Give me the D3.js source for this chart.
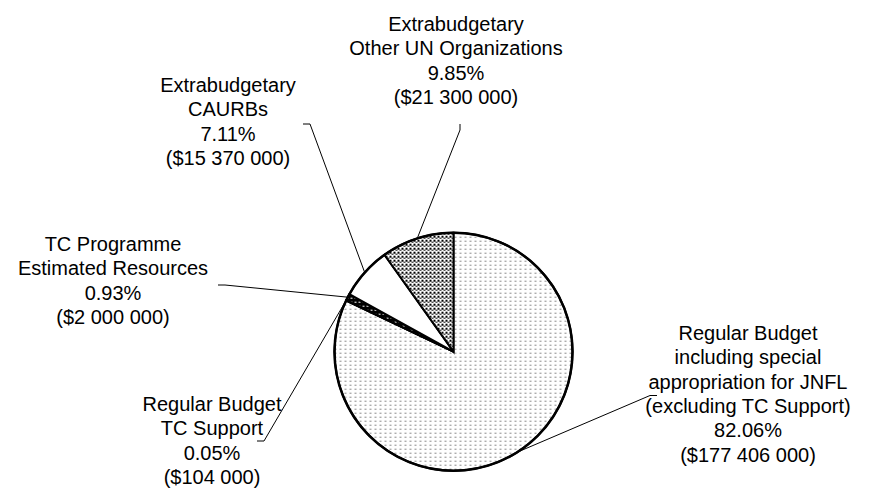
<!DOCTYPE html>
<html>
<head>
<meta charset="utf-8">
<script src="https://cdn.jsdelivr.net/npm/d3@7"></script>
<style>
  body { margin: 0; background: white; }
  svg { display: block; }
  .label { font-family: Arial, "Liberation Sans", sans-serif; font-size: 20px; fill: black; }
</style>
</head>
<body>
<script>
// slices, in drawing order clockwise from 12 o'clock
var categories = ["Regular Budget including special appropriation for JNFL (excluding TC Support)",
  "Regular Budget TC Support", "TC Programme Estimated Resources",
  "Extrabudgetary CAURBs", "Extrabudgetary Other UN Organizations"]
var amounts = [177406000, 104000, 2000000, 15370000, 21300000]
var percents = ["82.06%", "0.05%", "0.93%", "7.11%", "9.85%"]
var amountLabels = ["($177 406 000)", "($104 000)", "($2 000 000)", "($15 370 000)", "($21 300 000)"]
var nameLines = [
  ["Regular Budget", "including special", "appropriation for JNFL", "(excluding TC Support)"],
  ["Regular Budget", "TC Support"],
  ["TC Programme", "Estimated Resources"],
  ["Extrabudgetary", "CAURBs"],
  ["Extrabudgetary", "Other UN Organizations"]
]

var width = 881, height = 492
var cx = 453.5, cy = 351.7, radius = 119

// where each label block sits and where its leader line starts
var layout = [
  {x: 748, y: 340, anchor: [657, 395.5], side: -1},
  {x: 212, y: 411, anchor: [257, 441], side: 1},
  {x: 113, y: 251, anchor: [218, 285], side: 1},
  {x: 228, y: 92, anchor: [303, 124], side: 1},
  {x: 456, y: 31, anchor: [460, 124], side: 0}
]
var lineHeight = 24.3

var data = amounts.map(function(d, i) {
  return {name: categories[i], value: d, pct: percents[i], amt: amountLabels[i],
    lines: nameLines[i], pos: layout[i], fill: "url(#pat" + i + ")"}
})

var svg = d3.select("body").append("svg")
  .attr("width", width)
  .attr("height", height)

var defs = svg.append("defs")

// light dotted fill
var p0 = defs.append("pattern").attr("id", "pat0").attr("patternUnits", "userSpaceOnUse")
  .attr("width", 5).attr("height", 4)
p0.append("rect").attr("width", 5).attr("height", 4).attr("fill", "white")
p0.append("rect").attr("x", 1).attr("y", 1).attr("width", 2).attr("height", 1).attr("fill", "#8a8a8a")

// near black with a few light specks
var p1 = defs.append("pattern").attr("id", "pat1").attr("patternUnits", "userSpaceOnUse")
  .attr("width", 4).attr("height", 4)
p1.append("rect").attr("width", 4).attr("height", 4).attr("fill", "black")
var p2 = defs.append("pattern").attr("id", "pat2").attr("patternUnits", "userSpaceOnUse")
  .attr("width", 4).attr("height", 4)
p2.append("rect").attr("width", 4).attr("height", 4).attr("fill", "black")
p2.append("rect").attr("x", 1).attr("y", 2).attr("width", 2).attr("height", 1).attr("fill", "white")

var p3 = defs.append("pattern").attr("id", "pat3").attr("patternUnits", "userSpaceOnUse")
  .attr("width", 4).attr("height", 4)
p3.append("rect").attr("width", 4).attr("height", 4).attr("fill", "white")

// dense checked fill
var p4 = defs.append("pattern").attr("id", "pat4").attr("patternUnits", "userSpaceOnUse")
  .attr("width", 4).attr("height", 4)
p4.append("rect").attr("width", 4).attr("height", 4).attr("fill", "white")
p4.append("rect").attr("x", 0).attr("y", 0).attr("width", 2).attr("height", 2).attr("fill", "black")
p4.append("rect").attr("x", 2).attr("y", 2).attr("width", 2).attr("height", 1).attr("fill", "black")

var pie = d3.pie().sort(null).value(function(d) { return d.value })
var arc = d3.arc().innerRadius(0).outerRadius(radius)

var arcs = pie(data)

var g = svg.append("g").attr("transform", "translate(" + cx + "," + cy + ")")

g.selectAll("path.slice")
  .data(arcs)
  .enter().append("path")
  .attr("class", "slice")
  .attr("d", arc)
  .attr("fill", function(d) { return d.data.fill })
  .attr("stroke", "black")
  .attr("stroke-width", 2)
  .attr("stroke-linejoin", "miter")

g.append("circle")
  .attr("r", radius)
  .attr("fill", "none")
  .attr("stroke", "black")
  .attr("stroke-width", 2.5)

// leader lines: short tick at the label, then to the middle of the slice edge
svg.selectAll("polyline.leader")
  .data(arcs)
  .enter().append("polyline")
  .attr("class", "leader")
  .attr("fill", "none")
  .attr("stroke", "black")
  .attr("stroke-width", 1)
  .attr("points", function(d) {
    var a = (d.startAngle + d.endAngle) / 2
    var ex = cx + radius * Math.sin(a)
    var ey = cy - radius * Math.cos(a)
    var p = d.data.pos
    var bend = p.side === 0 ? [p.anchor[0], p.anchor[1] + 6] : [p.anchor[0] + 7 * p.side, p.anchor[1]]
    return [p.anchor, bend, [ex, ey]].map(function(q) { return q.join(",") }).join(" ")
  })

var labels = svg.selectAll("text.label")
  .data(data)
  .enter().append("text")
  .attr("class", "label")
  .attr("text-anchor", "middle")
  .attr("x", function(d) { return d.pos.x })
  .attr("y", function(d) { return d.pos.y })

labels.each(function(d) {
  var t = d3.select(this)
  var all = d.lines.concat([d.pct, d.amt])
  all.forEach(function(s, i) {
    t.append("tspan")
      .attr("x", d.pos.x)
      .attr("y", d.pos.y + i * lineHeight)
      .text(s)
  })
})
</script>
</body>
</html>
